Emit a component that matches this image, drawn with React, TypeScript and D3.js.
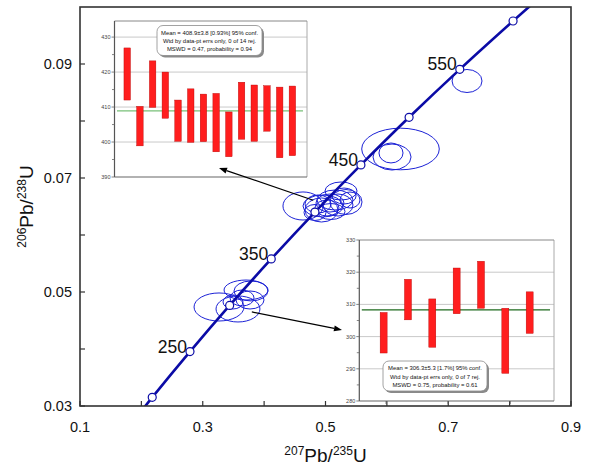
import React from "react";
import * as d3 from "d3";

const W = 590;
const H = 467;

// concordia curve (age in Ma, 207Pb/235U, 206Pb/238U)
const concAges = [190, 200, 250, 300, 350, 400, 450, 500, 550, 600, 620];
const concX = [0.2058, 0.2177, 0.2792, 0.3438, 0.4116, 0.4828, 0.5577, 0.6362, 0.7188, 0.8056, 0.8415];
const concY = [0.02991, 0.03152, 0.03954, 0.04764, 0.0558, 0.06402, 0.0723, 0.08065, 0.08906, 0.09754, 0.10096];
const markerAges = [200, 250, 300, 350, 400, 450, 500, 550, 600];
const labelAges = [250, 350, 450, 550];

// error ellipses: centre and 2-sigma half widths
const ellX = [
  0.3265, 0.3705, 0.3786, 0.3574, 0.364, 0.377, 0.3493,
  0.4633, 0.5253, 0.5334, 0.4959, 0.4935, 0.5073, 0.5155, 0.5024, 0.5204, 0.4878, 0.5302, 0.509, 0.5399, 0.4829,
  0.6222, 0.6084, 0.6067,
  0.7306,
];
const ellY = [
  0.04737, 0.05035, 0.05018, 0.04702, 0.04895, 0.0486, 0.04825,
  0.06509, 0.06772, 0.06579, 0.06509, 0.06439, 0.06561, 0.06614, 0.06474, 0.06526, 0.06544, 0.06684, 0.06412, 0.06614, 0.06395,
  0.07509, 0.07368, 0.07439,
  0.08702,
];
const ellSx = [
  0.0407, 0.0358, 0.0277, 0.0358, 0.0196, 0.0228, 0.0163,
  0.0326, 0.0261, 0.0261, 0.0326, 0.0269, 0.0228, 0.0293, 0.0196, 0.0244, 0.0212, 0.0196, 0.0228, 0.0163, 0.0179,
  0.0632, 0.031, 0.0196,
  0.0244,
];
const ellSy = [
  0.00246, 0.00175, 0.00175, 0.00228, 0.0014, 0.00158, 0.00123,
  0.00246, 0.00158, 0.00219, 0.00193, 0.00211, 0.00158, 0.00175, 0.0014, 0.00193, 0.00158, 0.0014, 0.0014, 0.0014, 0.0014,
  0.00365, 0.00228, 0.00175,
  0.00202,
];

const xTicks = [0.1, 0.2, 0.3, 0.4, 0.5, 0.6, 0.7, 0.8, 0.9];
const xLabels = [0.1, 0.3, 0.5, 0.7, 0.9];
const yTicks = [0.03, 0.04, 0.05, 0.06, 0.07, 0.08, 0.09];
const yLabels = [0.03, 0.05, 0.07, 0.09];

// inset 1: ~400 Ma population, 14 grains
const ins1Low = [412.0, 398.9, 409.9, 406.8, 400.2, 399.9, 400.1, 397.2, 395.8, 400.8, 400.2, 403.1, 395.5, 396.1];
const ins1High = [426.9, 410.2, 423.2, 420.0, 412.0, 415.2, 413.7, 413.9, 408.6, 417.1, 416.3, 416.1, 415.7, 416.0];
const ins1Mean = 408.9;
const ins1Ticks = [390, 400, 410, 420, 430];
const ins1Text = [
  "Mean = 408.9\u00b13.8  [0.93%]  95% conf.",
  "Wtd by data-pt errs only, 0 of 14 rej.",
  "MSWD = 0.47, probability = 0.94",
];

// inset 2: ~300 Ma population, 7 grains
const ins2Low = [294.9, 305.2, 296.7, 307.1, 308.8, 288.6, 301.0];
const ins2High = [307.5, 317.8, 311.7, 321.3, 323.4, 308.8, 313.9];
const ins2Mean = 308.3;
const ins2Ticks = [280, 290, 300, 310, 320, 330];
const ins2XTicks = [1.1, 3.65, 6.2];
const ins2Text = [
  "Mean = 306.3\u00b15.3  [1.7%]  95% conf.",
  "Wtd by data-pt errs only, 0 of 7 rej.",
  "MSWD = 0.75, probability = 0.61",
];

const FONT = "Liberation Sans, Arial, Helvetica, sans-serif";
const BLUE = "#0b0ba6";
const ELL = "#1c22d6";

type InsetProps = {
  x0: number; x1: number; y0: number; y1: number;
  low: number[]; high: number[]; mean: number; ticks: number[];
  yDomain: [number, number]; xMax: number; barW: number;
  meanColor: string; text: string[];
  box: { x: number; y: number; w: number; h: number };
  xTicks?: number[];
};

function Inset(p: InsetProps) {
  const y = d3.scaleLinear().domain(p.yDomain).range([p.y1, p.y0]);
  const x = d3.scaleLinear().domain([0, p.xMax]).range([p.x0, p.x1]);
  const minor = p.ticks.slice(0, -1).map((t, i) => (t + p.ticks[i + 1]) / 2);
  const idx = d3.range(1, p.low.length + 1);
  return (
    <g fontFamily={FONT}>
      <rect x={p.x0} y={p.y0} width={p.x1 - p.x0} height={p.y1 - p.y0} fill="#fff" />
      {p.ticks.filter(t => y(t) > p.y0 + 1 && y(t) < p.y1 - 1).map(t => (
        <line key={t} x1={p.x0} x2={p.x1} y1={y(t)} y2={y(t)} stroke="#c9c9c9" strokeWidth={1} />
      ))}
      <line x1={p.x1} x2={p.x1} y1={p.y0} y2={p.y1} stroke="#aaa" />
      <line x1={p.x0} x2={p.x1} y1={p.y0} y2={p.y0} stroke="#888" />
      <line x1={p.x0} x2={p.x1} y1={p.y1} y2={p.y1} stroke="#666" strokeWidth={1.2} />
      <line x1={p.x0} x2={p.x0} y1={p.y0} y2={p.y1} stroke="#555" strokeWidth={1.2} />
      {p.ticks.map(t => (
        <g key={t}>
          <line x1={p.x0 - 3} x2={p.x0} y1={y(t)} y2={y(t)} stroke="#666" strokeWidth={0.8} />
          <text x={p.x0 - 4} y={y(t)} dy="0.35em" textAnchor="end" fontSize={5.5} fill="#444">{t}</text>
        </g>
      ))}
      {minor.map(t => (
        <line key={t} x1={p.x0 - 2.5} x2={p.x0} y1={y(t)} y2={y(t)} stroke="#666" strokeWidth={0.8} />
      ))}
      {(p.xTicks || []).map(t => (
        <line key={t} x1={x(t)} x2={x(t)} y1={p.y1} y2={p.y1 + 3} stroke="#555" strokeWidth={0.8} />
      ))}
      <line x1={p.x0 + 2.5} x2={p.x1 - 4} y1={y(p.mean)} y2={y(p.mean)} stroke={p.meanColor} strokeWidth={1.3} />
      {idx.map((i, k) => (
        <rect key={i} x={x(i) - p.barW / 2} y={y(p.high[k])} width={p.barW}
          height={y(p.low[k]) - y(p.high[k])} fill="#ff1e1e" stroke="#b40000" strokeWidth={0.4} />
      ))}
      <rect x={p.box.x + 2} y={p.box.y + 2} width={p.box.w} height={p.box.h} rx={6} fill="#8a8a8a" />
      <rect x={p.box.x} y={p.box.y} width={p.box.w} height={p.box.h} rx={6} fill="#fff" stroke="#8a8a8a" strokeWidth={0.8} />
      {p.text.map((t, i) => (
        <text key={i} x={p.box.x + p.box.w / 2} y={p.box.y + 9.3 + i * 8.2} textAnchor="middle" fontSize={5.9} fill="#111">{t}</text>
      ))}
    </g>
  );
}

function Arrow({ x1, y1, x2, y2 }: { x1: number; y1: number; x2: number; y2: number }) {
  const a = Math.atan2(y2 - y1, x2 - x1);
  const L = 8, w = 3;
  const bx = x2 - L * Math.cos(a), by = y2 - L * Math.sin(a);
  const px = -Math.sin(a) * w, py = Math.cos(a) * w;
  return (
    <g>
      <line x1={x1} y1={y1} x2={bx} y2={by} stroke="#000" strokeWidth={1.2} />
      <path d={`M${x2},${y2}L${bx + px},${by + py}L${bx - px},${by - py}Z`} fill="#000" />
    </g>
  );
}

export default function App() {
  const left = 80, right = 571, top = 7, bottom = 406;
  const x = d3.scaleLinear().domain([0.1, 0.9]).range([left, right]);
  const y = d3.scaleLinear().domain([0.03, 0.1]).range([bottom, top]);

  const pts = concAges.map((a, i) => ({ age: a, x: concX[i], y: concY[i] }));
  const line = d3.line<{ x: number; y: number }>().x(d => x(d.x)).y(d => y(d.y)).curve(d3.curveCatmullRom);
  const byAge = (a: number) => pts.find(p => p.age === a)!;

  const ell = ellX.map((cx, i) => ({ cx, cy: ellY[i], sx: ellSx[i], sy: ellSy[i] }));

  return (
    <svg width={W} height={H} style={{ position: "absolute", left: 0, top: 0 }} fontFamily={FONT}>
      <defs>
        <clipPath id="plot"><rect x={left} y={top} width={right - left} height={bottom - top} /></clipPath>
      </defs>
      <rect width={W} height={H} fill="#fff" />
      <g clipPath="url(#plot)">
        {ell.map((e, i) => (
          <ellipse key={i} cx={x(e.cx)} cy={y(e.cy)} rx={x(e.cx + e.sx) - x(e.cx)} ry={y(e.cy) - y(e.cy + e.sy)}
            fill="none" stroke={ELL} strokeWidth={1} />
        ))}
        <path d={line(pts) || ""} fill="none" stroke={BLUE} strokeWidth={2.6} />
        {markerAges.map(a => (
          <circle key={a} cx={x(byAge(a).x)} cy={y(byAge(a).y)} r={4} fill="#fff" stroke={BLUE} strokeWidth={1.2} />
        ))}
        {labelAges.map(a => (
          <text key={a} x={x(byAge(a).x) - 3} y={y(byAge(a).y) + 1} textAnchor="end" fontSize={17.5} fill="#111">{a}</text>
        ))}
      </g>

      {/* frame and ticks */}
      <rect x={left} y={top} width={right - left} height={bottom - top} fill="none" stroke="#333" strokeWidth={1.6} />
      {xTicks.map(t => (
        <line key={t} x1={x(t)} x2={x(t)} y1={bottom} y2={bottom - 5} stroke="#333" strokeWidth={1.2} />
      ))}
      {yTicks.map(t => (
        <line key={t} x1={left} x2={left + 5} y1={y(t)} y2={y(t)} stroke="#333" strokeWidth={1.2} />
      ))}
      {xLabels.map(t => (
        <text key={t} x={x(t)} y={432} textAnchor="middle" fontSize={14.5} fill="#111">{t}</text>
      ))}
      {yLabels.map(t => (
        <text key={t} x={72} y={y(t)} dy="0.35em" textAnchor="end" fontSize={14.5} fill="#111">{t.toFixed(2)}</text>
      ))}
      <text x={(left + right) / 2} y={462} textAnchor="middle" fontSize={19} fill="#111">
        <tspan fontSize={12} dy={-7}>207</tspan>
        <tspan dy={7}>Pb/</tspan>
        <tspan fontSize={12} dy={-7}>235</tspan>
        <tspan dy={7}>U</tspan>
      </text>
      <text transform={`translate(33,${(top + bottom) / 2}) rotate(-90)`} textAnchor="middle" fontSize={19} fill="#111">
        <tspan fontSize={12} dy={-7}>206</tspan>
        <tspan dy={7}>Pb/</tspan>
        <tspan fontSize={12} dy={-7}>238</tspan>
        <tspan dy={7}>U</tspan>
      </text>

      <Inset x0={114.5} x1={307} y0={21} y1={177} low={ins1Low} high={ins1High} mean={ins1Mean}
        ticks={ins1Ticks} yDomain={[390, 434.6]} xMax={15.15} barW={6.5} meanColor="#78c078"
        text={ins1Text} box={{ x: 157, y: 25.5, w: 105, h: 30 }} />
      <Inset x0={359.3} x1={554} y0={240} y1={401} low={ins2Low} high={ins2High} mean={ins2Mean}
        ticks={ins2Ticks} yDomain={[280, 330]} xMax={8} barW={7} meanColor="#1e6a1e"
        text={ins2Text} box={{ x: 383, y: 361, w: 104, h: 30 }} xTicks={ins2XTicks} />

      <Arrow x1={x(0.48)} y1={y(0.0661)} x2={219} y2={168} />
      <Arrow x1={x(0.38)} y1={y(0.0465)} x2={342} y2={330} />
    </svg>
  );
}
